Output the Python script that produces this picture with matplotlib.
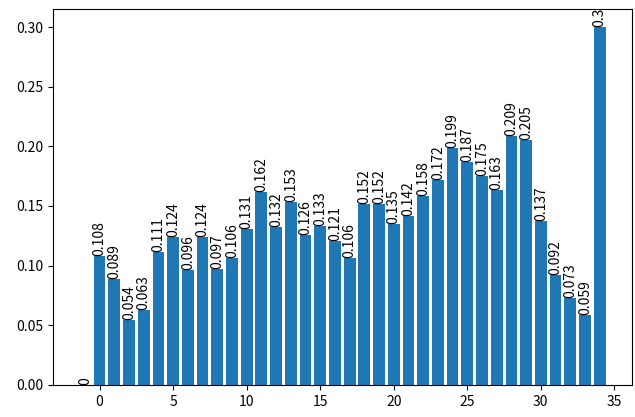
import matplotlib
matplotlib.use("Agg")
import matplotlib.pyplot as plt

plt.rcParams["font.family"] = ["Noto Sans CJK JP", "DejaVu Sans"]

# share per position; position -1 is the empty leading slot
positions = list(range(-1, 35))
shares = [0,
          0.108, 0.089, 0.054, 0.063, 0.111, 0.124, 0.096, 0.124, 0.097, 0.106,
          0.131, 0.162, 0.132, 0.153, 0.126, 0.133, 0.121, 0.106, 0.152, 0.152,
          0.135, 0.142, 0.158, 0.172, 0.199, 0.187, 0.175, 0.163, 0.209, 0.205,
          0.137, 0.092, 0.073, 0.059, 0.3]

fig = plt.figure(figsize=(6.35, 4.17), dpi=100)
ax = fig.add_axes([0.083, 0.077, 0.912, 0.901])

bars = ax.bar(positions, shares, color="#1f77b4")
for x, v in zip(positions, shares):
    ax.text(x, v, f"{v:g}", rotation=90, ha="center", va="bottom", fontsize=10)

ax.set_yticks([0, 0.05, 0.10, 0.15, 0.20, 0.25, 0.30])
ax.set_yticklabels(["0.00", "0.05", "0.10", "0.15", "0.20", "0.25", "0.30"])

fig.savefig("out.png", dpi=100)
